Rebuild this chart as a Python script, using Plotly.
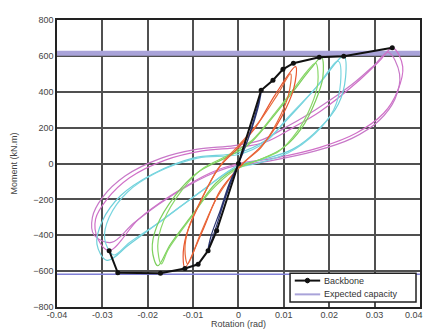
import plotly.graph_objects as go

# Backbone
bb_rot = [-0.0285, -0.0266, -0.0172, -0.0118, -0.0089, -0.0067, -0.0048, 0.0, 0.005, 0.0076, 0.0098, 0.0121, 0.0178, 0.0232, 0.0339]
bb_mom = [-486, -609, -612, -585, -562, -486, -375, 0, 408, 464, 525, 559, 592, 598, 645]

# Expected capacity
cap_rot = [-0.04, 0.04]
cap_pos = [615, 615]
cap_neg = [-618, -618]

# Hysteresis cycles
navy_rot_1 = [0.0, 0.002, 0.004, 0.005, 0.0045, 0.003, 0.001, -0.001, -0.003, -0.005, -0.0067, -0.006, -0.004, -0.002, 0.0]
navy_mom_1 = [0, 130, 300, 400, 330, 200, 60, -60, -200, -360, -480, -400, -260, -110, 0]

red_rot_1 = [0.0126, 0.0122, 0.0095, 0.0055, 0.001, -0.004, -0.008, -0.0118, -0.0122, -0.0115, -0.0085, -0.0045, 0.0, 0.004, 0.008, 0.0126]
red_mom_1 = [540, 420, 260, 110, 0, -150, -380, -580, -520, -400, -220, -30, 90, 210, 380, 540]
red_rot_2 = [0.0115, 0.011, 0.0085, 0.005, 0.0005, -0.0045, -0.0085, -0.0112, -0.0118, -0.011, -0.008, -0.004, 0.0, 0.0045, 0.0085, 0.0115]
red_mom_2 = [500, 380, 230, 90, -10, -180, -400, -560, -480, -360, -190, -10, 100, 230, 380, 500]

green_rot_1 = [0.0183, 0.0186, 0.017, 0.014, 0.010, 0.005, 0.0, -0.005, -0.010, -0.015, -0.0178, -0.019, -0.018, -0.014, -0.009, -0.003, 0.002, 0.007, 0.012, 0.016, 0.0183]
green_mom_1 = [592, 480, 350, 200, 90, 25, -20, -110, -280, -450, -570, -480, -350, -180, -50, 30, 100, 240, 400, 530, 592]
green_rot_2 = [0.017, 0.0175, 0.016, 0.013, 0.009, 0.004, -0.001, -0.006, -0.011, -0.0155, -0.017, -0.0178, -0.0165, -0.0125, -0.008, -0.002, 0.003, 0.008, 0.012, 0.015, 0.017]
green_mom_2 = [560, 450, 320, 180, 70, 15, -40, -150, -320, -480, -560, -460, -320, -150, -30, 50, 130, 280, 410, 510, 560]

cyan_rot_1 = [0.0232, 0.0236, 0.022, 0.018, 0.012, 0.005, 0.0, -0.008, -0.016, -0.024, -0.029, -0.0312, -0.030, -0.026, -0.019, -0.010, 0.0, 0.006, 0.012, 0.018, 0.0232]
cyan_mom_1 = [598, 480, 330, 200, 80, 20, -10, -150, -300, -450, -540, -450, -320, -180, -60, 30, 60, 130, 280, 450, 598]
cyan_rot_2 = [0.022, 0.0225, 0.021, 0.017, 0.011, 0.004, -0.001, -0.009, -0.017, -0.024, -0.0275, -0.0295, -0.0285, -0.0245, -0.018, -0.009, 0.0, 0.006, 0.011, 0.017, 0.022]
cyan_mom_2 = [570, 450, 300, 170, 60, 0, -30, -170, -320, -440, -510, -420, -300, -160, -50, 30, 50, 120, 260, 420, 570]

pink_rot_1 = [0.034, 0.0362, 0.035, 0.032, 0.026, 0.018, 0.008, 0.0, -0.006, -0.015, -0.022, -0.0285, -0.031, -0.0315, -0.029, -0.024, -0.016, -0.008, 0.0, 0.006, 0.012, 0.018, 0.026, 0.031, 0.034]
pink_mom_1 = [645, 540, 400, 280, 170, 90, 30, 0, -50, -180, -310, -486, -420, -310, -200, -80, 20, 70, 90, 120, 200, 290, 450, 570, 645]
pink_rot_2 = [0.033, 0.0355, 0.0345, 0.031, 0.025, 0.017, 0.007, -0.001, -0.007, -0.016, -0.023, -0.028, -0.0318, -0.0322, -0.030, -0.025, -0.017, -0.009, -0.001, 0.005, 0.011, 0.017, 0.025, 0.030, 0.033]
pink_mom_2 = [620, 500, 360, 240, 140, 70, 15, -15, -70, -200, -330, -440, -400, -300, -190, -70, 30, 80, 100, 130, 210, 300, 440, 550, 620]

x_ticks = [-0.04, -0.03, -0.02, -0.01, 0, 0.01, 0.02, 0.03, 0.04]
x_tick_text = ["-0.04", "-0.03", "-0.02", "-0.01", "0", "0.01", "0.02", "0.03", "0.04"]
y_ticks = [-800, -600, -400, -200, 0, 200, 400, 600, 800]
legend_names = ["Backbone", "Expected capacity"]

fig = go.Figure()

cap_color = "#a9a3d9"
fig.add_trace(go.Scatter(x=cap_rot, y=cap_pos, mode="lines", line=dict(color=cap_color, width=5), showlegend=False, hoverinfo="skip"))
fig.add_trace(go.Scatter(x=cap_rot, y=cap_neg, mode="lines", line=dict(color="#7f7fd6", width=1.5), showlegend=False, hoverinfo="skip"))

cycles = [
    (pink_rot_1, pink_mom_1, "#d070c8"),
    (pink_rot_2, pink_mom_2, "#c878c8"),
    (cyan_rot_1, cyan_mom_1, "#6fd0da"),
    (cyan_rot_2, cyan_mom_2, "#7ad6e0"),
    (green_rot_1, green_mom_1, "#7ccf5c"),
    (green_rot_2, green_mom_2, "#8ad86a"),
    (red_rot_1, red_mom_1, "#e8552e"),
    (red_rot_2, red_mom_2, "#e86a3a"),
    (navy_rot_1, navy_mom_1, "#2a3470"),
]
for rx, my, c in cycles:
    fig.add_trace(go.Scatter(x=rx, y=my, mode="lines", line=dict(color=c, width=1.2, shape="spline", smoothing=1.0),
                             showlegend=False, hoverinfo="skip"))

fig.add_trace(go.Scatter(x=bb_rot, y=bb_mom, mode="lines+markers", name=legend_names[0], showlegend=False,
                         line=dict(color="#111111", width=2), marker=dict(color="#111111", size=5)))

# Compact legend box (drawn in paper coordinates)
fig.add_shape(type="rect", xref="paper", yref="paper", x0=0.642, x1=0.989, y0=0.017, y1=0.118,
              line=dict(color="#222222", width=1.5), fillcolor="white", layer="above")
fig.add_shape(type="line", xref="paper", yref="paper", x0=0.655, x1=0.725, y0=0.092, y1=0.092,
              line=dict(color="#111111", width=2), layer="above")
fig.add_shape(type="circle", xref="paper", yref="paper", x0=0.684, x1=0.696, y0=0.084, y1=0.100,
              line=dict(color="#111111", width=1), fillcolor="#111111", layer="above")
fig.add_shape(type="line", xref="paper", yref="paper", x0=0.655, x1=0.725, y0=0.044, y1=0.044,
              line=dict(color=cap_color, width=2), layer="above")
fig.add_annotation(xref="paper", yref="paper", x=0.730, y=0.092, text=legend_names[0], showarrow=False,
                   xanchor="left", yanchor="middle", font=dict(size=9, color="#333333"))
fig.add_annotation(xref="paper", yref="paper", x=0.730, y=0.044, text=legend_names[1], showarrow=False,
                   xanchor="left", yanchor="middle", font=dict(size=9, color="#333333"))

# Last x tick label, kept inside the figure edge
fig.add_annotation(xref="x", yref="paper", x=x_ticks[-1], y=0, yshift=-1, xshift=5, text=x_tick_text[-1],
                   showarrow=False, xanchor="right", yanchor="top", font=dict(size=9, color="#444444"))

fig.update_layout(
    width=426, height=329,
    margin=dict(l=57, r=6, t=20, b=22, autoexpand=False),
    paper_bgcolor="white", plot_bgcolor="white",
    font=dict(family="Liberation Sans, Arial", size=9, color="#444444"),
    showlegend=False,
)
fig.update_xaxes(range=[-0.04, 0.04001], tickvals=x_ticks, ticktext=x_tick_text, showgrid=True,
                 gridcolor="#505050", gridwidth=1.8, zeroline=False, showline=True, linecolor="#222222",
                 linewidth=1.5, mirror=True, ticks="", ticklen=0, ticklabelstandoff=-2, automargin=False,
                 title=dict(text="Rotation (rad)", standoff=0, font=dict(size=9)))
fig.update_yaxes(range=[-800, 800], tickvals=y_ticks, showgrid=True,
                 gridcolor="#505050", gridwidth=1.8, zeroline=False, showline=True, linecolor="#222222",
                 linewidth=1.5, mirror=True, ticks="", ticklen=0, automargin=False,
                 title=dict(text="Moment (kN.m)", standoff=14, font=dict(size=9)))

fig.write_html("out.html", config={"displayModeBar": False},
               post_script="document.body.style.margin='0';")
